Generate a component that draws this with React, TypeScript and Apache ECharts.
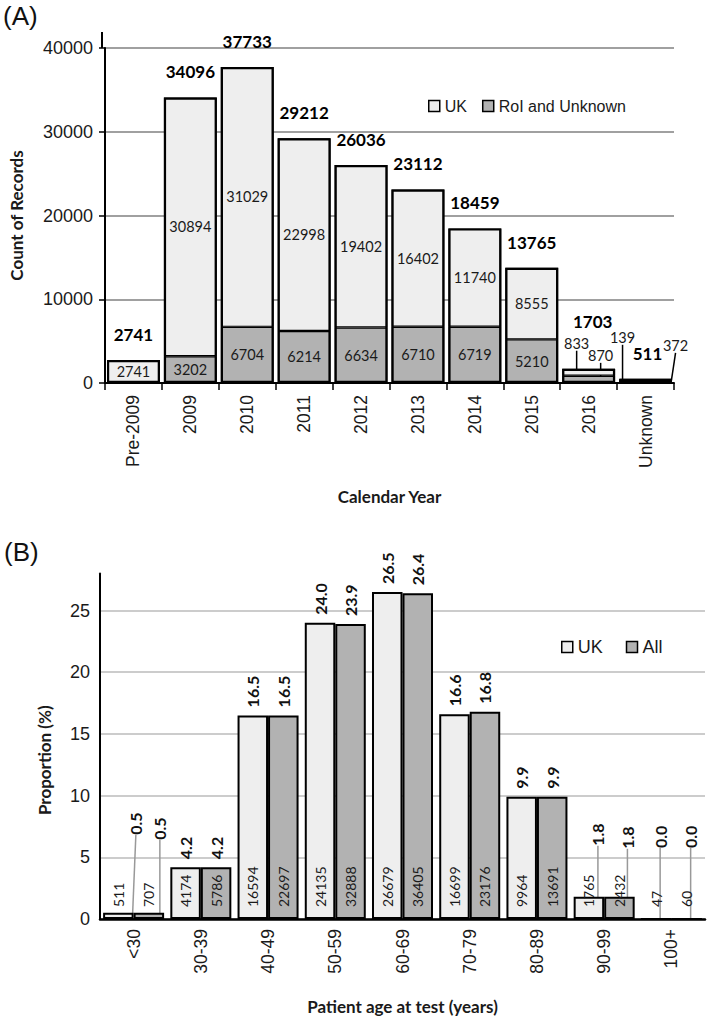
import React, { useEffect, useRef } from "react";
import * as echarts from "echarts";

// ---------- Panel A: records by calendar year ----------
const yearCategories = ["Pre-2009", "2009", "2010", "2011", "2012", "2013", "2014", "2015", "2016", "Unknown"];
const ukByYear = [2741, 30894, 31029, 22998, 19402, 16402, 11740, 8555, 833, 139];
const roiByYear = [null, 3202, 6704, 6214, 6634, 6710, 6719, 5210, 870, 372];
const totalByYear = [2741, 34096, 37733, 29212, 26036, 23112, 18459, 13765, 1703, 511];

// ---------- Panel B: proportion by age group ----------
const ageCategories = ["<30", "30-39", "40-49", "50-59", "60-69", "70-79", "80-89", "90-99", "100+"];
const ukPercent = [0.5, 4.2, 16.5, 24.0, 26.5, 16.6, 9.9, 1.8, 0.0];
const allPercent = [0.5, 4.2, 16.5, 23.9, 26.4, 16.8, 9.9, 1.8, 0.0];
const ukAgeCount = [511, 4174, 16594, 24135, 26679, 16699, 9964, 1765, 47];
const allAgeCount = [707, 5786, 22697, 32888, 36405, 23176, 13691, 2432, 60];

// label nudges (screen px) for the crowded small bars
type Nudge = Record<number, [number, number]>;
const nudgeRoiA: Nudge = { 8: [12, -24], 9: [30, -36] };
const nudgeUkA: Nudge = { 8: [-12, -29], 9: [-23, -42] };
const nudgeTotalA: Nudge = { 8: [4, -22], 9: [2, 0] };
const nudgeUkB: Nudge = { 0: [17.5, -70], 7: [9, -43], 8: [4, -62] };
const nudgeAllB: Nudge = { 0: [11, -65], 7: [8, -40], 8: [4, -62] };

const LIGHT = "#eeeeee";
const GRAY = "#b2b2b2";
const SANS = '"Liberation Sans", Arial, sans-serif';
const HUM = 'Lato, "Noto Sans", sans-serif';
const TXT = "#1a1a1a";

function withLeader(values: (number | null)[], nudge: Nudge) {
  return values.map((v, i) => (nudge[i] ? { value: v, labelLine: { show: true } } : v));
}

function layoutFor(nudge: Nudge, rotated: boolean) {
  return (p: any) => {
    const n = nudge[p.dataIndex];
    if (!n) return {};
    return rotated ? { dx: -n[1], dy: n[0] } : { dx: n[0], dy: n[1] };
  };
}

export default function App() {
  const ref = useRef<HTMLDivElement>(null);

  useEffect(() => {
    if (!ref.current) return;
    const chart = echarts.init(ref.current, undefined, { renderer: "svg" });

    const option: any = {
      animation: false,
      textStyle: { fontFamily: SANS },
      graphic: [
        { type: "text", left: 3, top: 3, style: { text: "(A)", font: `26px ${SANS}`, fill: "#111" } },
        { type: "text", left: 4, top: 539, style: { text: "(B)", font: `26px ${SANS}`, fill: "#111" } },
        { type: "line", shape: { x1: 102, y1: 32, x2: 102, y2: 48 }, style: { stroke: "#000", lineWidth: 2 } },
      ],
      legend: [
        {
          left: 423,
          top: 93,
          icon: "rect",
          itemWidth: 11,
          itemHeight: 11,
          itemGap: 15,
          selectedMode: false,
          itemStyle: { borderColor: "#000", borderWidth: 1.5 },
          textStyle: { fontFamily: SANS, fontSize: 16, color: TXT },
          data: ["UK", "RoI and Unknown"],
        },
        {
          left: 556,
          top: 633,
          icon: "rect",
          itemWidth: 11,
          itemHeight: 11,
          itemGap: 23,
          selectedMode: false,
          itemStyle: { borderColor: "#000", borderWidth: 1.5 },
          textStyle: { fontFamily: SANS, fontSize: 18, color: TXT },
          data: ["UK", "All"],
        },
      ],
      grid: [
        { left: 102, top: 48, width: 572, height: 335 },
        { left: 100, top: 573.5, width: 605, height: 345.5 },
      ],
      xAxis: [
        {
          type: "category",
          gridIndex: 0,
          data: yearCategories,
          axisLine: { lineStyle: { color: "#000", width: 2 } },
          axisTick: { show: true, length: 7, lineStyle: { color: "#000", width: 1.5 } },
          axisLabel: { rotate: 90, fontSize: 17.5, color: TXT, margin: 12, fontFamily: SANS },
          name: "Calendar Year",
          nameLocation: "middle",
          nameGap: 105,
          nameTextStyle: { fontFamily: HUM, fontWeight: "bold", fontSize: 17, color: TXT },
        },
        {
          type: "category",
          gridIndex: 1,
          data: ageCategories,
          axisLine: { lineStyle: { color: "#000", width: 2.5 } },
          axisTick: { show: false },
          axisLabel: { rotate: 90, fontSize: 17.5, color: TXT, margin: 10, fontFamily: SANS },
          name: "Patient age at test (years)",
          nameLocation: "middle",
          nameGap: 79,
          nameTextStyle: { fontFamily: HUM, fontWeight: "bold", fontSize: 17, color: TXT },
        },
        {
          type: "category",
          gridIndex: 1,
          data: ageCategories,
          show: false,
        },
      ],
      yAxis: [
        {
          type: "value",
          gridIndex: 0,
          min: 0,
          max: 40000,
          interval: 10000,
          axisLine: { show: true, lineStyle: { color: "#000", width: 2 } },
          axisTick: { show: true, length: 6, lineStyle: { color: "#000", width: 1.5 } },
          axisLabel: { fontSize: 18, color: TXT, margin: 12, fontFamily: SANS, formatter: (v: number) => String(v) },
          splitLine: { show: true, lineStyle: { color: "#808080", width: 1.5 } },
          name: "Count of Records",
          nameLocation: "middle",
          nameRotate: 90,
          nameGap: 80,
          nameTextStyle: { fontFamily: HUM, fontWeight: "bold", fontSize: 17, color: TXT },
        },
        {
          type: "value",
          gridIndex: 1,
          min: 0,
          max: 28,
          interval: 5,
          axisLine: { show: true, lineStyle: { color: "#000", width: 2 } },
          axisTick: { show: false },
          axisLabel: {
            fontSize: 18,
            color: TXT,
            margin: 10,
            fontFamily: SANS,
            showMaxLabel: false,
            formatter: (v: number) => String(v),
          },
          splitLine: { show: true, showMaxLine: false, lineStyle: { color: "#cccccc", width: 2 } },
          name: "Proportion (%)",
          nameLocation: "middle",
          nameRotate: 90,
          nameGap: 47,
          nameTextStyle: { fontFamily: HUM, fontWeight: "bold", fontSize: 17, color: TXT, padding: [0, 28, 0, 0] },
        },
      ],
      series: [
        {
          name: "RoI and Unknown",
          type: "bar",
          xAxisIndex: 0,
          yAxisIndex: 0,
          stack: "a",
          barGap: "-100%",
          barCategoryGap: "7%",
          data: withLeader(roiByYear, nudgeRoiA),
          itemStyle: { color: GRAY, borderColor: "#000", borderWidth: 1.2 },
          label: { show: true, position: "inside", fontFamily: HUM, fontSize: 14.5, color: TXT },
          labelLine: { show: false, lineStyle: { color: "#000", width: 1.5 } },
          labelLayout: layoutFor(nudgeRoiA, false),
        },
        {
          name: "UK",
          type: "bar",
          xAxisIndex: 0,
          yAxisIndex: 0,
          stack: "a",
          barGap: "-100%",
          barCategoryGap: "7%",
          data: withLeader(ukByYear, nudgeUkA),
          itemStyle: { color: LIGHT, borderColor: "#000", borderWidth: 1.2 },
          label: { show: true, position: "inside", fontFamily: HUM, fontSize: 14.5, color: TXT },
          labelLine: { show: false, lineStyle: { color: "#000", width: 1.5 } },
          labelLayout: layoutFor(nudgeUkA, false),
        },
        {
          name: "Total",
          type: "bar",
          xAxisIndex: 0,
          yAxisIndex: 0,
          barGap: "-100%",
          barCategoryGap: "7%",
          data: totalByYear,
          itemStyle: { color: "rgba(0,0,0,0)", borderColor: "#000", borderWidth: 2.2 },
          label: {
            show: true,
            position: "top",
            distance: 17,
            fontFamily: HUM,
            fontWeight: "bold",
            fontSize: 17,
            color: "#000",
          },
          labelLayout: layoutFor(nudgeTotalA, false),
          z: 3,
        },
        {
          name: "UK",
          type: "bar",
          xAxisIndex: 1,
          yAxisIndex: 1,
          barGap: "0%",
          barCategoryGap: "9.25%",
          data: withLeader(ukPercent, nudgeUkB),
          itemStyle: { color: LIGHT, borderColor: "#000", borderWidth: 2 },
          label: {
            show: true,
            position: "top",
            rotate: 90,
            align: "left",
            verticalAlign: "middle",
            distance: 8,
            fontFamily: HUM,
            fontWeight: "bold",
            fontSize: 16,
            color: "#111",
            formatter: (p: any) => Number(ukPercent[p.dataIndex]).toFixed(1),
          },
          labelLine: { show: false, lineStyle: { color: "#999999", width: 1.5 } },
          labelLayout: layoutFor(nudgeUkB, true),
        },
        {
          name: "All",
          type: "bar",
          xAxisIndex: 1,
          yAxisIndex: 1,
          barGap: "0%",
          barCategoryGap: "9.25%",
          data: withLeader(allPercent, nudgeAllB),
          itemStyle: { color: GRAY, borderColor: "#000", borderWidth: 2 },
          label: {
            show: true,
            position: "top",
            rotate: 90,
            align: "left",
            verticalAlign: "middle",
            distance: 8,
            fontFamily: HUM,
            fontWeight: "bold",
            fontSize: 16,
            color: "#111",
            formatter: (p: any) => Number(allPercent[p.dataIndex]).toFixed(1),
          },
          labelLine: { show: false, lineStyle: { color: "#999999", width: 1.5 } },
          labelLayout: layoutFor(nudgeAllB, true),
        },
        {
          name: "UK count",
          type: "bar",
          xAxisIndex: 2,
          yAxisIndex: 1,
          barGap: "0%",
          barCategoryGap: "9.25%",
          data: ukPercent,
          itemStyle: { color: "rgba(0,0,0,0)" },
          label: {
            show: true,
            position: "insideBottom",
            rotate: 90,
            align: "left",
            verticalAlign: "middle",
            distance: 12,
            fontFamily: HUM,
            fontSize: 14,
            color: TXT,
            formatter: (p: any) => String(ukAgeCount[p.dataIndex]),
          },
          z: 4,
        },
        {
          name: "All count",
          type: "bar",
          xAxisIndex: 2,
          yAxisIndex: 1,
          barGap: "0%",
          barCategoryGap: "9.25%",
          data: allPercent,
          itemStyle: { color: "rgba(0,0,0,0)" },
          label: {
            show: true,
            position: "insideBottom",
            rotate: 90,
            align: "left",
            verticalAlign: "middle",
            distance: 12,
            fontFamily: HUM,
            fontSize: 14,
            color: TXT,
            formatter: (p: any) => String(allAgeCount[p.dataIndex]),
          },
          z: 4,
        },
      ],
    };

    chart.setOption(option);
    return () => chart.dispose();
  }, []);

  return (
    <div
      ref={ref}
      style={{ position: "fixed", left: 0, top: 0, width: 709, height: 1022, background: "#fff" }}
    />
  );
}
